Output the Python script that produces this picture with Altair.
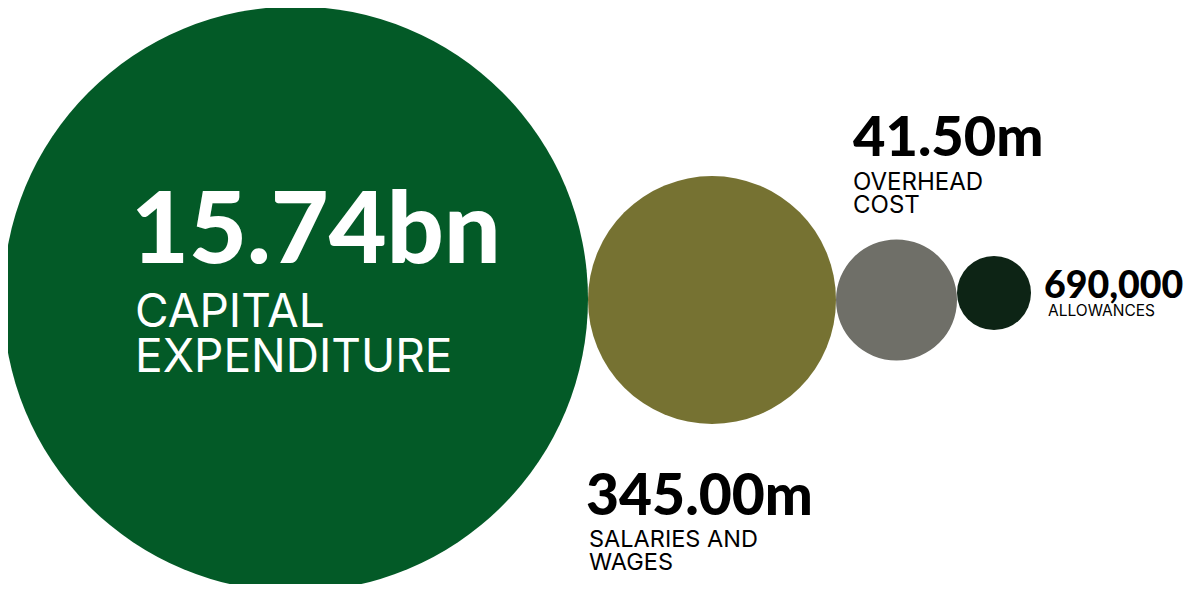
import altair as alt
import pandas as pd

# ---- data ----
categories = ["CAPITAL\nEXPENDITURE", "SALARIES AND\nWAGES", "OVERHEAD\nCOST", "ALLOWANCES"]
values = [15.74e9, 345.0e6, 41.5e6, 690000]
value_labels = ["15.74bn", "345.00m", "41.50m", "690,000"]

# ---- styles / layout ----
colors = ["#035a27", "#767232", "#6f6f68", "#0d2415"]
W, H = 1181, 576
OFF = 8                      # page margin
diam = [585, 248, 121, 74]   # circle diameters (px)
left0 = 3
cy = [299, 300, 300, 293]

xs = []
edge = left0 - OFF
for d in diam:
    xs.append(edge + d / 2)
    edge += d

circles = pd.DataFrame({"cat": categories, "value": values, "color": colors,
                        "x": xs, "y": [c - OFF for c in cy]})

# text anchors (page coords -> chart coords)
val_x = [131, 586, 853, 1044]
val_y = [263, 515, 156, 298]
val_fs = [100, 57, 56, 37.5]
val_col = ["#ffffff", "#000000", "#000000", "#000000"]
lab_x = [135, 589, 853, 1048]
lab_y = [327, 547, 190, 316]
lab_fs = [46, 23.5, 24, 15.5]

texts = pd.DataFrame({
    "value_label": value_labels, "cat": categories,
    "vx": [v - OFF for v in val_x], "vy": [v - OFF for v in val_y], "vfs": val_fs,
    "col": val_col,
    "lx": [v - OFF for v in lab_x], "ly": [v - OFF for v in lab_y], "lfs": lab_fs,
})

xscale = alt.Scale(domain=[0, W], range=[0, W])
yscale = alt.Scale(domain=[0, H], range=[0, H])
order = sorted(range(4), key=lambda i: values[i])
size_scale = alt.Scale(domain=[values[i] for i in order],
                       range=[diam[i] ** 2 for i in order])

base_axis = dict(axis=None)

circ = alt.Chart(circles).mark_circle(opacity=1, strokeWidth=0).encode(
    x=alt.X("x:Q", scale=xscale, **base_axis),
    y=alt.Y("y:Q", scale=yscale, **base_axis),
    size=alt.Size("value:Q", scale=size_scale, legend=None),
    color=alt.Color("color:N", scale=None),
)

vals = alt.Chart(texts).mark_text(
    align="left", baseline="alphabetic", font="Lato", fontWeight=900
).encode(
    x=alt.X("vx:Q", scale=xscale, **base_axis),
    y=alt.Y("vy:Q", scale=yscale, **base_axis),
    text="value_label:N",
    size=alt.Size("vfs:Q", scale=None),
    color=alt.Color("col:N", scale=None),
)

lab_big = alt.Chart(texts.iloc[[0]]).mark_text(
    align="left", baseline="alphabetic", font="Inter", fontWeight=400,
    lineBreak="\n", lineHeight=45
).encode(
    x=alt.X("lx:Q", scale=xscale, **base_axis),
    y=alt.Y("ly:Q", scale=yscale, **base_axis),
    text="cat:N",
    size=alt.Size("lfs:Q", scale=None),
    color=alt.Color("col:N", scale=None),
)

lab_small = alt.Chart(texts.iloc[1:]).mark_text(
    align="left", baseline="alphabetic", font="Inter", fontWeight=400,
    lineBreak="\n", lineHeight=23
).encode(
    x=alt.X("lx:Q", scale=xscale, **base_axis),
    y=alt.Y("ly:Q", scale=yscale, **base_axis),
    text="cat:N",
    size=alt.Size("lfs:Q", scale=None),
    color=alt.Color("col:N", scale=None),
)

chart = alt.layer(circ, vals, lab_big, lab_small).properties(
    width=W, height=H, autosize=alt.AutoSizeParams(type="none"), padding=0
).configure_view(stroke=None)

chart.save("out.html", embed_options={"renderer": "svg", "actions": False})
